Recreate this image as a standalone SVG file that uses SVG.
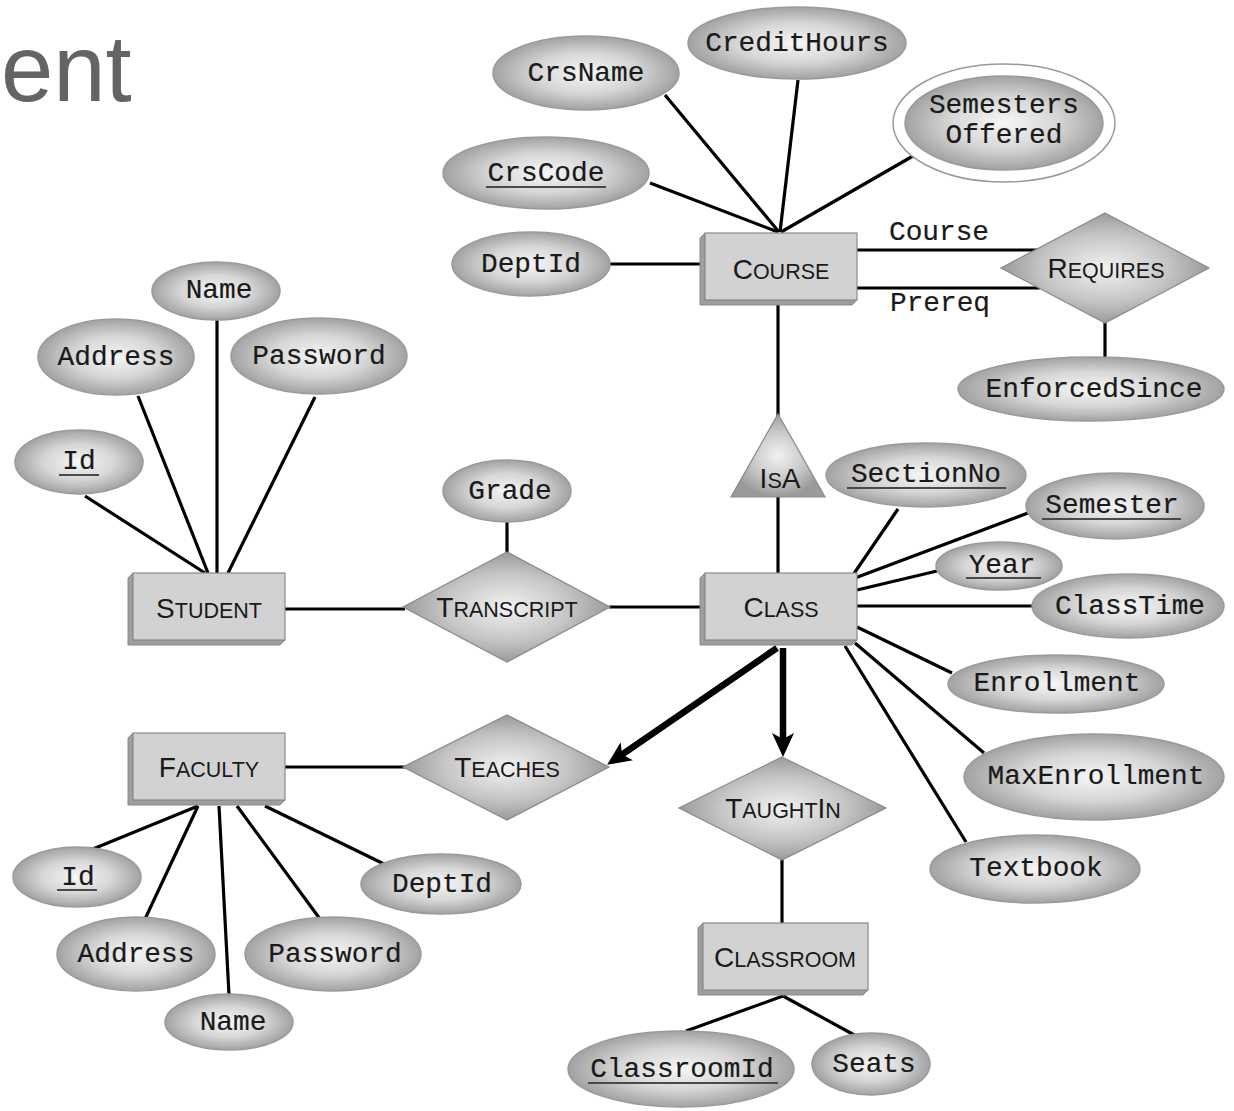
<svg xmlns="http://www.w3.org/2000/svg" width="1234" height="1111" viewBox="0 0 1234 1111">
<style>
.bg{fill:#ffffff}
.title{font-family:"Liberation Sans",Arial,sans-serif;font-size:94px;fill:#666462}
.attr{fill:url(#eg);stroke:#9a9a9a;stroke-width:1.5}
.rel{fill:url(#dg);stroke:#8a8a8a;stroke-width:1.2}
.face{fill:#d2d2d2;stroke:#8a8a8a;stroke-width:1.2}
.shade{fill:#9e9e9e;stroke:#8a8a8a;stroke-width:1}
.at{font-family:"Liberation Mono","Courier New",monospace;font-size:27.8px;fill:#1a1a1a;stroke:#1a1a1a;stroke-width:0.2;text-anchor:middle}
.et{font-family:"Liberation Sans",Arial,sans-serif;font-size:28px;fill:#1a1a1a;text-anchor:middle}
.sc{font-size:21.5px}
.ul{stroke:#4a4a4a;stroke-width:2}
.ln{stroke:#000;stroke-width:3.2;fill:none}
.thick{stroke:#000;stroke-width:6.5;fill:none}
</style>
<defs>
<radialGradient id="eg" cx="50%" cy="50%" r="50%">
<stop offset="0%" stop-color="#f6f6f6"/>
<stop offset="55%" stop-color="#d6d6d6"/>
<stop offset="100%" stop-color="#a2a2a2"/>
</radialGradient>
<radialGradient id="dg" cx="50%" cy="50%" r="50%">
<stop offset="0%" stop-color="#f2f2f2"/>
<stop offset="60%" stop-color="#c6c6c6"/>
<stop offset="100%" stop-color="#9a9a9a"/>
</radialGradient>
<marker id="arr" markerUnits="userSpaceOnUse" viewBox="0 0 24 22" markerWidth="24" markerHeight="22" refX="12" refY="11" orient="auto">
<path d="M0,0 L24,11 L0,22 L6,11 Z" fill="#000"/>
</marker>
</defs>
<rect class="bg" x="0" y="0" width="1234" height="1111"/>
<text class="title" x="1" y="101">ent</text>

<g id="connectors">
<line class="ln" x1="665" y1="95" x2="779" y2="232"/>
<line class="ln" x1="798" y1="80" x2="780" y2="232"/>
<line class="ln" x1="913" y1="156" x2="781" y2="232"/>
<line class="ln" x1="650" y1="183" x2="778" y2="232"/>
<line class="ln" x1="610" y1="264" x2="700" y2="264"/>
<line class="ln" x1="857" y1="250" x2="1038" y2="250"/>
<line class="ln" x1="857" y1="288" x2="1040" y2="288"/>
<line class="ln" x1="1105" y1="322" x2="1105" y2="357"/>
<line class="ln" x1="778" y1="305" x2="778" y2="416"/>
<line class="ln" x1="778" y1="497" x2="778" y2="573"/>
<line class="ln" x1="217" y1="320" x2="217" y2="573"/>
<line class="ln" x1="138" y1="396" x2="208" y2="573"/>
<line class="ln" x1="315" y1="397" x2="228" y2="573"/>
<line class="ln" x1="85" y1="496" x2="205" y2="573"/>
<line class="ln" x1="285" y1="609" x2="405" y2="609"/>
<line class="ln" x1="507" y1="522" x2="507" y2="554"/>
<line class="ln" x1="609" y1="607" x2="700" y2="607"/>
<line class="ln" x1="898" y1="509" x2="853" y2="575"/>
<line class="ln" x1="1028" y1="513" x2="855" y2="578"/>
<line class="ln" x1="937" y1="571" x2="857" y2="590"/>
<line class="ln" x1="1033" y1="606" x2="857" y2="606"/>
<line class="ln" x1="952" y1="673" x2="857" y2="627"/>
<line class="ln" x1="984" y1="753" x2="855" y2="643"/>
<line class="ln" x1="966" y1="842" x2="845" y2="646"/>
<line class="thick" x1="777" y1="648" x2="617" y2="758" marker-end="url(#arr)"/>
<line class="thick" x1="783" y1="648" x2="783" y2="745" marker-end="url(#arr)"/>
<line class="ln" x1="285" y1="767" x2="405" y2="767"/>
<line class="ln" x1="782" y1="859" x2="782" y2="923"/>
<line class="ln" x1="686" y1="1031" x2="783" y2="996"/>
<line class="ln" x1="858" y1="1037" x2="783" y2="996"/>
<line class="ln" x1="88" y1="851" x2="198" y2="806"/>
<line class="ln" x1="145" y1="919" x2="198" y2="806"/>
<line class="ln" x1="229" y1="995" x2="219" y2="806"/>
<line class="ln" x1="320" y1="919" x2="237" y2="806"/>
<line class="ln" x1="384" y1="864" x2="265" y2="806"/>
<text class="at" x="939" y="240">Course</text>
<text class="at" x="940" y="311">Prereq</text>
</g>

<g id="course">
<polygon class="shade" points="700,238 705,233 705,300 857,300 852,305 700,305"/>
<rect class="face" x="705" y="233" width="152" height="67"/>
<text class="et" x="781" y="279">C<tspan class="sc">OURSE</tspan></text>
</g>
<g id="student">
<polygon class="shade" points="128,578 133,573 133,640 285,640 280,645 128,645"/>
<rect class="face" x="133" y="573" width="152" height="67"/>
<text class="et" x="209" y="618">S<tspan class="sc">TUDENT</tspan></text>
</g>
<g id="class">
<polygon class="shade" points="700,578 705,573 705,640 857,640 852,645 700,645"/>
<rect class="face" x="705" y="573" width="152" height="67"/>
<text class="et" x="781" y="617">C<tspan class="sc">LASS</tspan></text>
</g>
<g id="faculty">
<polygon class="shade" points="128,738 133,733 133,800 285,800 280,805 128,805"/>
<rect class="face" x="133" y="733" width="152" height="67"/>
<text class="et" x="209" y="777">F<tspan class="sc">ACULTY</tspan></text>
</g>
<g id="classroom">
<polygon class="shade" points="698,928 703,923 703,990 868,990 863,995 698,995"/>
<rect class="face" x="703" y="923" width="165" height="67"/>
<text class="et" x="785" y="967">C<tspan class="sc">LASSROOM</tspan></text>
</g>

<g id="requires">
<polygon class="rel" points="1105,213 1209,268 1105,323 1001,268"/>
<text class="et" x="1106" y="278">R<tspan class="sc">EQUIRES</tspan></text>
</g>
<g id="transcript">
<polygon class="rel" points="507,552 610,607 507,662 403,607"/>
<text class="et" x="507" y="617">T<tspan class="sc">RANSCRIPT</tspan></text>
</g>
<g id="teaches">
<polygon class="rel" points="507,715 609,767 507,820 403,767"/>
<text class="et" x="507" y="777">T<tspan class="sc">EACHES</tspan></text>
</g>
<g id="taughtin">
<polygon class="rel" points="782,757 886,808 782,860 679,808"/>
<text class="et" x="783" y="818">T<tspan class="sc">AUGHT</tspan>I<tspan class="sc">N</tspan></text>
</g>
<g id="isa">
<polygon class="rel" points="778,414 825,497 731,497"/>
<text class="et" x="780" y="488">I<tspan class="sc">S</tspan>A</text>
</g>

<g id="crsname"><ellipse class="attr" cx="586" cy="73" rx="93" ry="37"/><text class="at" x="586" y="81">CrsName</text></g>
<g id="credithours"><ellipse class="attr" cx="797" cy="43" rx="109" ry="36"/><text class="at" x="797" y="51">CreditHours</text></g>
<g id="semestersoffered">
<ellipse cx="1004" cy="123" rx="111" ry="59" fill="#ffffff" stroke="#9a9a9a" stroke-width="1.5"/>
<ellipse class="attr" cx="1004" cy="123" rx="99" ry="47"/>
<text class="at" x="1004" y="113">Semesters</text>
<text class="at" x="1004" y="143">Offered</text>
</g>
<g id="crscode"><ellipse class="attr" cx="546" cy="173" rx="103" ry="36"/><text class="at" x="546" y="181">CrsCode</text><line class="ul" x1="486" y1="187" x2="606" y2="187"/></g>
<g id="deptid-course"><ellipse class="attr" cx="531" cy="264" rx="79" ry="32"/><text class="at" x="531" y="272">DeptId</text></g>
<g id="enforcedsince"><ellipse class="attr" cx="1091" cy="389" rx="133" ry="32"/><text class="at" x="1094" y="397">EnforcedSince</text></g>

<g id="name-student"><ellipse class="attr" cx="216" cy="291" rx="64" ry="29"/><text class="at" x="219" y="298">Name</text></g>
<g id="address-student"><ellipse class="attr" cx="116" cy="357" rx="78" ry="38"/><text class="at" x="116" y="365">Address</text></g>
<g id="password-student"><ellipse class="attr" cx="319" cy="356" rx="88" ry="38"/><text class="at" x="319" y="364">Password</text></g>
<g id="id-student"><ellipse class="attr" cx="79" cy="462" rx="64" ry="32"/><text class="at" x="79" y="469">Id</text><line class="ul" x1="59" y1="475" x2="99" y2="475"/></g>
<g id="grade"><ellipse class="attr" cx="507" cy="491" rx="64" ry="31"/><text class="at" x="510" y="499">Grade</text></g>

<g id="sectionno"><ellipse class="attr" cx="926" cy="475" rx="100" ry="32"/><text class="at" x="926" y="482">SectionNo</text><line class="ul" x1="847" y1="488" x2="1006" y2="488"/></g>
<g id="semester"><ellipse class="attr" cx="1115" cy="506" rx="89" ry="33"/><text class="at" x="1112" y="513">Semester</text><line class="ul" x1="1042" y1="519" x2="1181" y2="519"/></g>
<g id="year"><ellipse class="attr" cx="999" cy="566" rx="63" ry="24"/><text class="at" x="1002" y="573">Year</text><line class="ul" x1="966" y1="578" x2="1041" y2="578"/></g>
<g id="classtime"><ellipse class="attr" cx="1128" cy="606" rx="96" ry="32"/><text class="at" x="1130" y="614">ClassTime</text></g>
<g id="enrollment"><ellipse class="attr" cx="1056" cy="684" rx="108" ry="29"/><text class="at" x="1057" y="691">Enrollment</text></g>
<g id="maxenrollment"><ellipse class="attr" cx="1094" cy="777" rx="130" ry="43"/><text class="at" x="1096" y="784">MaxEnrollment</text></g>
<g id="textbook"><ellipse class="attr" cx="1035" cy="869" rx="105" ry="34"/><text class="at" x="1036" y="876">Textbook</text></g>

<g id="id-faculty"><ellipse class="attr" cx="77" cy="877" rx="64" ry="30"/><text class="at" x="78" y="885">Id</text><line class="ul" x1="57" y1="890" x2="97" y2="890"/></g>
<g id="address-faculty"><ellipse class="attr" cx="136" cy="954" rx="79" ry="37"/><text class="at" x="136" y="962">Address</text></g>
<g id="name-faculty"><ellipse class="attr" cx="229" cy="1022" rx="64" ry="28"/><text class="at" x="233" y="1030">Name</text></g>
<g id="password-faculty"><ellipse class="attr" cx="333" cy="954" rx="88" ry="37"/><text class="at" x="335" y="962">Password</text></g>
<g id="deptid-faculty"><ellipse class="attr" cx="441" cy="884" rx="80" ry="30"/><text class="at" x="442" y="892">DeptId</text></g>

<g id="classroomid"><ellipse class="attr" cx="681" cy="1069" rx="113" ry="38"/><text class="at" x="682" y="1077">ClassroomId</text><line class="ul" x1="588" y1="1083" x2="778" y2="1083"/></g>
<g id="seats"><ellipse class="attr" cx="871" cy="1064" rx="59" ry="31"/><text class="at" x="874" y="1072">Seats</text></g>
</svg>
